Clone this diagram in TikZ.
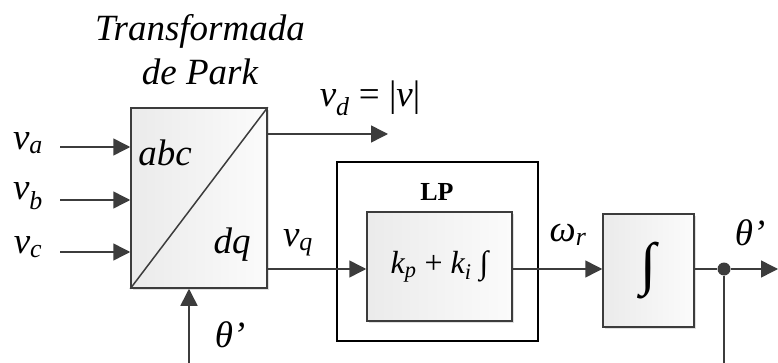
\documentclass[tikz,border=0pt]{standalone}
\usepackage{fontspec}
\setmainfont{Liberation Serif}[ItalicFont={Liberation Serif Italic},BoldFont={Liberation Serif Bold}]
\usetikzlibrary{arrows.meta,shadows}
\definecolor{linec}{HTML}{3C3C3C}
\newcommand{\sbs}[1]{\textsubscript{\itshape #1}}
\begin{document}
\begin{tikzpicture}[x=1pt,y=-1pt,
 line/.style={draw=linec, line width=1.5pt},
 arr/.style={line, -{Triangle[length=17pt,width=17pt]}},
 blk/.style={draw=linec, line width=1.5pt, left color=gray!16, right color=gray!3,
   drop shadow={shadow xshift=2pt,shadow yshift=-2pt,opacity=0.25}, inner sep=0pt},
 lbl/.style={font=\fontsize{37}{44}\selectfont\itshape, inner sep=0pt}
]
\useasboundingbox (0,0) rectangle (778,363);
\fill[white] (0,0) rectangle (778,363);
\coordinate (ly) at (0,269);
% Park block
\node[blk, minimum width=136pt, minimum height=180pt] (park) at (199,198) {};
\draw[line] (park.south west) -- (park.north east);
\node[lbl] (abc) at (165,153) {abc};
\node[lbl] (dq) at (232,245) {dq};
\node[lbl, align=center] (title) at (200,50) {Transformada\\de Park};
% inputs
\coordinate (ia) at (60,147);
\coordinate (ib) at (60,200);
\coordinate (ic) at (60,252);
\draw[arr] (ia) -- (park.west |- ia);
\draw[arr] (ib) -- (park.west |- ib);
\draw[arr] (ic) -- (park.west |- ic);
\node[lbl] (va) at (28,143) {v\sbs{a}};
\node[lbl] (vb) at (28,196) {v\sbs{b}};
\node[lbl] (vc) at (28,247) {v\sbs{c}};
% vd output
\coordinate (vdend) at (388,134);
\draw[arr] (park.east |- vdend) -- (vdend);
\node[font=\fontsize{37}{40}\selectfont, inner sep=0pt] (vd) at (370,98) {{\itshape v}\sbs{d} = |{\itshape v}|};
% LP
\node[draw=black, line width=2pt, minimum width=201pt, minimum height=179pt] (lp) at (437.5,251.5) {};
\node[font=\fontsize{26}{28}\selectfont\bfseries, inner sep=0pt] (lplbl) at (437,192) {LP};
\node[blk, minimum width=145pt, minimum height=109pt, font=\fontsize{32}{34}\selectfont] (pi) at (439.5,266.5) {{\itshape k}\sbs{p} + {\itshape k}\sbs{i} ∫};
\draw[arr] (park.east |- ly) -- (pi.west |- ly);
\node[lbl] (vq) at (298,243) {v\sbs{q}};
% integrator
\node[blk, minimum width=91pt, minimum height=113pt, font=\fontsize{58}{60}\selectfont] (integ) at (648.5,270.5) {∫};
\draw[arr] (pi.east |- ly) -- (integ.west |- ly);
\node[lbl] (wr) at (568,235) {ω\sbs{r}};
\node[circle, fill=linec, minimum size=13pt, inner sep=0pt] (dot) at (724,269) {};
\draw[line] (integ.east |- ly) -- (dot);
\coordinate (out) at (778,269);
\draw[arr] (dot) -- (out);
\coordinate (fb) at (724,363);
\draw[line] (dot) -- (fb);
\node[lbl] (th2) at (750,233) {θ’};
% theta input
\coordinate (thin) at (189,363);
\draw[arr] (thin) -- (thin |- park.south);
\node[lbl] (th1) at (230,335) {θ’};
\end{tikzpicture}
\end{document}
